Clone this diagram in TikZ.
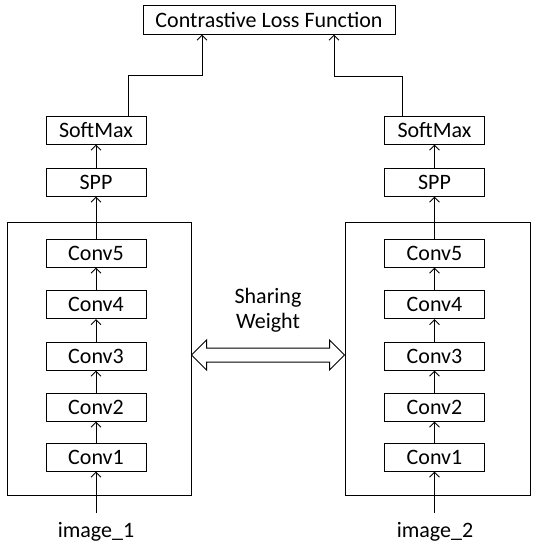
\documentclass[tikz,border=0pt]{standalone}
\usepackage{fontspec}
\setmainfont{Carlito}
\usetikzlibrary{arrows.meta,calc}
\begin{document}
\begin{tikzpicture}[x=1pt,y=-1pt,line width=1pt,
  blk/.style={draw,minimum width=100pt,minimum height=28pt,inner sep=0pt,font=\fontsize{22}{25}\selectfont},
  big/.style={draw,minimum width=184pt,minimum height=273pt,inner sep=0pt},
  arr/.style={-{Straight Barb[length=5pt,width=10pt]}},
  lbl/.style={font=\fontsize{22}{25}\selectfont,inner sep=0pt,align=center}]
\useasboundingbox (0,0) rectangle (536,550);
% loss
\node[blk,minimum width=252pt,minimum height=29pt] (loss) at (269,19.5) {Contrastive Loss Function};
% big boxes
\node[big] (bigL) at (99,358.5) {};
\node[big,minimum width=185pt] (bigR) at (437.5,358.5) {};
% columns
\foreach \s/\cx in {L/96,R/434.5}{
  \node[blk] (sm\s) at (\cx,130) {SoftMax};
  \node[blk] (spp\s) at (\cx,182) {SPP};
  \node[blk] (c5\s) at (\cx,253) {Conv5};
  \node[blk] (c4\s) at (\cx,304.5) {Conv4};
  \node[blk] (c3\s) at (\cx,356) {Conv3};
  \node[blk] (c2\s) at (\cx,407) {Conv2};
  \node[blk] (c1\s) at (\cx,457) {Conv1};
  \draw[arr] (c1\s) -- (c2\s);
  \draw[arr] (c2\s) -- (c3\s);
  \draw[arr] (c3\s) -- (c4\s);
  \draw[arr] (c4\s) -- (c5\s);
  \draw[arr] (c5\s) -- (spp\s);
  \draw[arr] (spp\s) -- (sm\s);
}
\node[lbl] (imL) at (96,532) {image\_1};
\node[lbl] (imR) at (435,532) {image\_2};
\coordinate (inL) at (96,513);
\coordinate (inR) at (434.5,513);
\draw[arr] (inL) -- (c1L);
\draw[arr] (inR) -- (c1R);
% to loss
\coordinate (oL) at ($(smL.north)+(32,0)$);
\coordinate (oR) at ($(smR.north)+(-32.5,0)$);
\coordinate (tL) at ($(loss.south)+(-67,0)$);
\coordinate (tR) at ($(loss.south)+(65,0)$);
\draw[arr] (oL) -- (oL |- 0,75) -- (tL |- 0,75) -- (tL);
\draw[arr] (oR) -- (oR |- 0,76) -- (tR |- 0,76) -- (tR);
% sharing weight
\node[lbl] (sw) at (268,310) {Sharing\\Weight};
\draw[fill=white] (bigL.east |- 0,355) -- ++(15,-15) -- ++(0,8) -- ($(bigR.west |- 0,348)+(-15,0)$) -- ++(0,-8) -- (bigR.west |- 0,355) -- ++(-15,15) -- ++(0,-8) -- ($(bigL.east |- 0,362)+(15,0)$) -- ++(0,8) -- cycle;
\end{tikzpicture}
\end{document}
